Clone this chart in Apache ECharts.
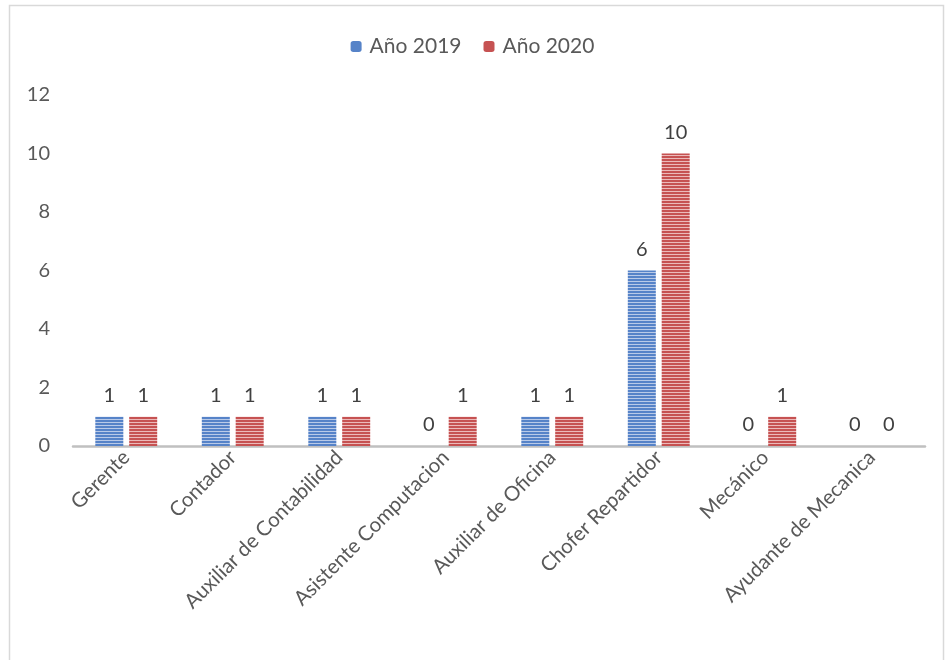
<!DOCTYPE html>
<html>
<head>
<meta charset="utf-8">
<script src="https://cdn.jsdelivr.net/npm/echarts@6/dist/echarts.min.js"></script>
<style>
html,body{margin:0;padding:0;background:#fff;}
#chart{width:945px;height:660px;}
</style>
</head>
<body>
<div id="chart"></div>
<script>
const categories = ["Gerente","Contador","Auxiliar de Contabilidad","Asistente Computacion","Auxiliar de Oficina","Chofer Repartidor","Mecánico","Ayudante de Mecanica"];
const seriesNames = ["Año 2019","Año 2020"];
const values2019 = [1,1,1,0,1,6,0,0];
const values2020 = [1,1,1,1,1,10,1,0];
const yTicks = {min:0,max:12,interval:2};

function stripes(dark, light){
  const c = document.createElement('canvas');
  c.width = 4; c.height = 3;
  const g = c.getContext('2d');
  g.fillStyle = light; g.fillRect(0,0,4,3);
  g.fillStyle = dark; g.fillRect(0,0,4,2);
  return {image:c, repeat:'repeat'};
}
const bluePat = stripes('#5683c8','#b9cae8');
const redPat = stripes('#c65252','#ebbaba');

const font = 'Lato, "Open Sans", sans-serif';
const chart = echarts.init(document.getElementById('chart'));
const labelCfg = {show:true, position:'top', distance:11, color:'#404040', fontSize:20, fontFamily:font};
chart.setOption({
  animation:false,
  backgroundColor:'#fff',
  graphic:[{type:'rect', shape:{x:9.5,y:5.5,width:934,height:700}, style:{fill:'none', stroke:'#d9d9d9', lineWidth:1.5}, silent:true}],
  legend:{
    top:31, left:'center', itemWidth:11, itemHeight:11, itemGap:22,
    textStyle:{color:'#595959', fontSize:21, fontFamily:font, padding:[0,0,0,3]},
    data:[{name:seriesNames[0], itemStyle:{color:'#5683c8'}},{name:seriesNames[1], itemStyle:{color:'#c65252'}}]
  },
  grid:{left:73, right:20, top:95, bottom:214, containLabel:false},
  xAxis:{
    type:'category', data:categories,
    axisLine:{lineStyle:{color:'#c0c0c0', width:2.5}},
    axisTick:{show:false},
    axisLabel:{rotate:45, interval:0, color:'#595959', fontSize:20.5, fontFamily:font, margin:8}
  },
  yAxis:{
    type:'value', min:yTicks.min, max:yTicks.max, interval:yTicks.interval,
    splitLine:{show:false}, axisLine:{show:false}, axisTick:{show:false},
    axisLabel:{color:'#595959', fontSize:20, fontFamily:font, margin:23}
  },
  series:[
    {name:seriesNames[0], type:'bar', data:values2019, barWidth:28, barGap:'21%', itemStyle:{color:bluePat}, label:labelCfg},
    {name:seriesNames[1], type:'bar', data:values2020, barWidth:28, itemStyle:{color:redPat}, label:labelCfg}
  ]
});
</script>
</body>
</html>
